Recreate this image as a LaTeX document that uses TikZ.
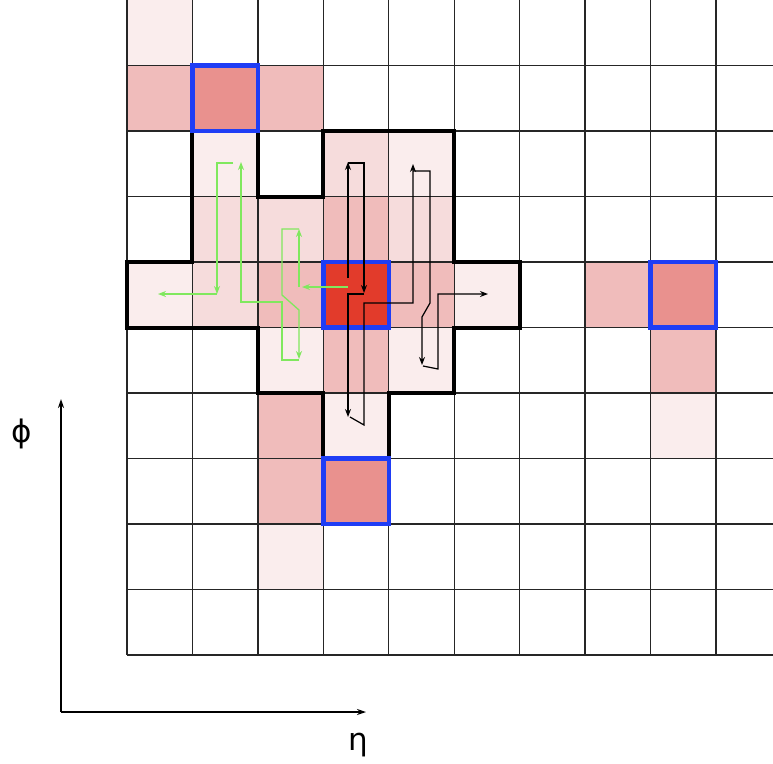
\documentclass[tikz,border=0pt]{standalone}
\usepackage{fontspec}
\newfontfamily\dejavu{DejaVu Sans}
\usetikzlibrary{arrows.meta}
\definecolor{cA}{HTML}{FAEDED}
\definecolor{cB}{HTML}{F6DCDC}
\definecolor{cC}{HTML}{F0BCBB}
\definecolor{cD}{HTML}{E9918E}
\definecolor{cE}{HTML}{E23B2B}
\definecolor{bl}{HTML}{1F3DF5}
\definecolor{gr}{HTML}{80E85E}
\tikzset{
  gridline/.style={draw=black!85, line width=1.3pt},
  clusterline/.style={draw=black, line width=4pt, line join=miter},
  seedbox/.style={draw=bl, line width=4.5pt},
  garr/.style={draw=gr, line width=1.3pt, line join=miter, -{Stealth[length=8pt,width=6pt]}},
  barr/.style={draw=black, line width=1.2pt, line join=miter, -{Stealth[length=8pt,width=6pt]}},
  axis/.style={draw=black, line width=1.4pt, -{Stealth[length=9pt,width=6pt]}},
  axlabel/.style={font=\dejavu\fontsize{31}{31}\selectfont, inner sep=0pt},
}
\begin{document}
\begin{tikzpicture}[x=1pt,y=-1pt]
\useasboundingbox (0,0) rectangle (773,763);
\clip (0,0) rectangle (773,763);
\fill[white] (0,0) rectangle (773,763);
\begin{scope}[shift={(127,0)}, x=65.44pt, y=-65.5pt]
  % cell fills
  \foreach \c/\r in {0/0, 1/2, 0/4, 4/2, 5/4, 2/5, 4/5, 3/6, 8/6, 2/8}
    \fill[cA] (\c,\r) rectangle ++(1,1);
  \foreach \c/\r in {1/3, 2/3, 1/4, 3/2, 4/3}
    \fill[cB] (\c,\r) rectangle ++(1,1);
  \foreach \c/\r in {0/1, 2/1, 2/4, 3/3, 4/4, 3/5, 2/6, 2/7, 7/4, 8/5}
    \fill[cC] (\c,\r) rectangle ++(1,1);
  \foreach \c/\r in {1/1, 8/4, 3/7}
    \fill[cD] (\c,\r) rectangle ++(1,1);
  \fill[cE] (3,4) rectangle ++(1,1);
  % grid
  \foreach \i in {0,...,10}
    \draw[gridline] (\i,-0.2) -- (\i,10);
  \foreach \j in {1,...,10}
    \draw[gridline] (0,\j) -- (10.5,\j);
  % cluster outline
  \draw[clusterline] (1,2) -- (2,2) -- (2,3) -- (3,3) -- (3,2) -- (5,2) -- (5,4)
    -- (6,4) -- (6,5) -- (5,5) -- (5,6) -- (4,6) -- (4,7) -- (3,7) -- (3,6)
    -- (2,6) -- (2,5) -- (0,5) -- (0,4) -- (1,4) -- cycle;
  % seed cells
  \foreach \c/\r in {1/1, 3/4, 8/4, 3/7}
    \draw[seedbox] (\c,\r) rectangle ++(1,1);
\end{scope}
% green growth path
\draw[garr] (348,287) -- (302,287);
\draw[garr] (299,287) -- (299,229);
\draw[garr] (299,229) -- (282,229) -- (282,295) -- (299,310) -- (299,359);
\draw[garr] (299,360) -- (282,360) -- (282,302) -- (241,302) -- (241,162);
\draw[garr] (233,163) -- (217,163) -- (217,294);
\draw[garr] (217,294) -- (158,294);
% black growth path
\draw[barr] (348,278) -- (348,162);
\draw[barr] (348,163) -- (364,163) -- (364,293);
\draw[barr] (364,294) -- (348,294) -- (348,417);
\draw[barr] (350,417) -- (364,425) -- (364,303) -- (413,303) -- (413,164);
\draw[barr] (413,171) -- (430,171) -- (430,303) -- (422,317) -- (422,365);
\draw[barr] (423,366) -- (438,369) -- (438,294) -- (488,294);
% axes
\coordinate (O) at (61,712);
\coordinate (ytip) at (61,399);
\coordinate (xtip) at (366,712);
\draw[axis] (O) -- (ytip);
\draw[axis] (O) -- (xtip);
\node[axlabel] (phi) at (22,434) {ϕ};
\node[axlabel] (eta) at (358,745) {η};
\end{tikzpicture}
\end{document}
